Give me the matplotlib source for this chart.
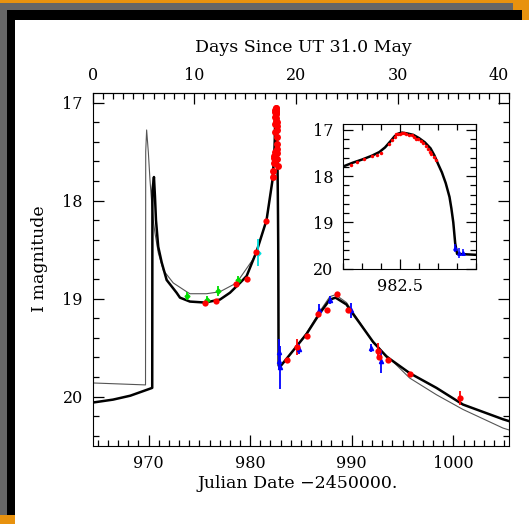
import numpy as np
import matplotlib.pyplot as plt
from matplotlib.patches import Rectangle
from matplotlib.ticker import MultipleLocator, FixedLocator

plt.rcParams['font.family'] = 'DejaVu Serif'
plt.rcParams['font.size'] = 11.5

# ---- model light curves (JD - 2450000, I mag) ----
# caustic exit, shared by both models (also drawn in the inset)
exit_t = [982.2, 982.25, 982.3, 982.35, 982.39, 982.42, 982.45, 982.47, 982.49,
          982.51, 982.54, 982.57, 982.6, 982.63, 982.66, 982.68, 982.7, 982.72,
          982.74, 982.76, 982.77, 982.78, 982.79, 982.8, 982.9]
exit_m = [17.79, 17.71, 17.64, 17.56, 17.48, 17.38, 17.24, 17.14, 17.08,
          17.06, 17.08, 17.11, 17.18, 17.27, 17.40, 17.55, 17.74, 17.92,
          18.15, 18.45, 18.70, 19.00, 19.45, 19.68, 19.70]

# thick model: before the exit / after it
thickA_t = [964.5, 966.5, 968.2, 970.1, 970.36, 970.38, 970.53, 970.63, 970.73,
            970.95, 971.29, 971.78, 972.76, 973.09, 974.07, 975.55, 977.02,
            978.01, 979.0, 979.65, 980.63, 981.61]
thickA_m = [20.06, 20.03, 19.99, 19.92, 19.91, 17.9, 17.76, 17.96, 18.20,
            18.47, 18.63, 18.81, 18.94, 18.99, 19.03, 19.04, 19.01,
            18.94, 18.84, 18.77, 18.52, 18.20]
thickB_t = [984.23, 985.55, 986.85, 987.84, 988.4, 989.48, 989.8, 990.78,
            992.09, 993.41, 995.7, 998.33, 1000.94, 1004.88, 1005.5]
thickB_m = [19.53, 19.36, 19.15, 19.01, 18.99, 19.06, 19.11, 19.25,
            19.44, 19.59, 19.76, 19.91, 20.08, 20.23, 20.25]

# thin model
thinA_t = [964.5, 969.7, 969.72, 969.81, 969.98, 970.14, 970.31, 970.46, 970.63,
           970.95, 971.45, 972.43, 973.75, 974.07, 975.71, 977.02, 978.66,
           980.27, 980.63, 981.61]
thinA_m = [19.86, 19.88, 17.5, 17.28, 17.51, 17.79, 18.02, 18.20, 18.33,
           18.53, 18.71, 18.84, 18.93, 18.95, 18.95, 18.93, 18.84,
           18.60, 18.52, 18.20]
thinB_t = [984.23, 985.55, 986.85, 987.84, 988.4, 989.48, 990.78, 992.09,
           993.73, 995.7, 998.33, 1000.94, 1004.88, 1005.5]
thinB_m = [19.53, 19.35, 19.13, 18.98, 18.96, 19.04, 19.24, 19.45,
           19.61, 19.81, 19.98, 20.13, 20.32, 20.34]

# ---- photometry ----
red_t = [975.55, 976.63, 978.59, 979.65, 980.56, 981.58, 983.64, 984.56,
         985.64, 986.69, 987.61, 988.55, 989.64, 992.62, 992.7, 993.6,
         995.7, 1000.65]
red_m = [19.04, 19.02, 18.85, 18.80, 18.52, 18.21, 19.63, 19.49,
         19.38, 19.16, 19.12, 18.95, 19.12, 19.53, 19.60, 19.63,
         19.77, 20.01]
red_e = [0.02, 0.02, 0.02, 0.02, 0.02, 0.02, 0.02, 0.08,
         0.02, 0.02, 0.02, 0.02, 0.02, 0.08, 0.03, 0.02,
         0.02, 0.07]

# red points over the caustic exit
redc_t = [982.24, 982.27, 982.31, 982.35, 982.38, 982.40, 982.44, 982.455,
          982.47, 982.48, 982.49, 982.50, 982.51, 982.52, 982.53, 982.545,
          982.56, 982.575, 982.585, 982.595, 982.61, 982.62, 982.635,
          982.645, 982.655, 982.665, 982.68, 982.69]
redc_m = [17.76, 17.70, 17.62, 17.57, 17.55, 17.50, 17.30, 17.22,
          17.15, 17.10, 17.08, 17.09, 17.06, 17.06, 17.09, 17.11,
          17.12, 17.16, 17.19, 17.20, 17.24, 17.28, 17.35,
          17.42, 17.47, 17.52, 17.58, 17.65]

blue_t = [982.82, 982.87, 982.92, 984.77, 986.81, 987.89, 989.9, 991.87, 992.92]
blue_m = [19.54, 19.64, 19.70, 19.51, 19.12, 19.01, 19.12, 19.50, 19.64]
blue_e = [0.13, 0.08, 0.22, 0.05, 0.07, 0.04, 0.08, 0.04, 0.12]

bluei_t = [982.79, 982.81, 982.83]
bluei_m = [19.55, 19.66, 19.65]
bluei_e = [0.08, 0.10, 0.08]

green_t = [973.8, 975.77, 976.85, 978.82]
green_m = [18.97, 19.01, 18.92, 18.81]
green_e = [0.04, 0.04, 0.05, 0.04]

cyan_t = [980.8]
cyan_m = [18.53]
cyan_e = [0.14]

day_ticks = [0, 10, 20, 30, 40]

fig = plt.figure(figsize=(5.29, 5.24), dpi=100, facecolor='#e8920e')

# the frame round the picture
fig.patches.append(Rectangle((0, 0.0172), 0.970, 0.977, transform=fig.transFigure,
                             facecolor='#666666', edgecolor='none', zorder=-3))
fig.patches.append(Rectangle((0.0132, 0.0172), 0.9736, 0.9637, transform=fig.transFigure,
                             facecolor='black', edgecolor='none', zorder=-2))
fig.patches.append(Rectangle((0.0284, 0.0), 0.9716, 0.9618, transform=fig.transFigure,
                             facecolor='white', edgecolor='none', zorder=-1))

ax = fig.add_axes([0.1752, 0.1494, 0.7875, 0.6737])
ax.set_facecolor('white')

main_thick_t = thickA_t + exit_t + thickB_t
main_thick_m = thickA_m + exit_m + thickB_m
main_thin_t = thinA_t + exit_t + thinB_t
main_thin_m = thinA_m + exit_m + thinB_m

ax.plot(main_thin_t, main_thin_m, color='#555555', lw=0.8, zorder=2)
ax.plot(main_thick_t, main_thick_m, color='black', lw=1.8, zorder=3)

ekw = dict(fmt='none', capsize=0, elinewidth=1.3, zorder=4)
ax.errorbar(green_t, green_m, yerr=green_e, ecolor='#00dd00', **ekw)
ax.plot(green_t, green_m, 'D', color='#00dd00', ms=2.5, zorder=5)
ax.errorbar(cyan_t, cyan_m, yerr=cyan_e, ecolor='#00e0e0', **ekw)
ax.plot(cyan_t, cyan_m, 'D', color='#00e0e0', ms=2.5, zorder=5)
ax.errorbar(blue_t, blue_m, yerr=blue_e, ecolor='blue', **ekw)
ax.plot(blue_t, blue_m, '^', color='blue', ms=3, zorder=5)
ax.errorbar(red_t, red_m, yerr=red_e, ecolor='red', **ekw)
ax.plot(red_t, red_m, 'o', color='red', ms=4.5, mec='none', zorder=6)
ax.plot(redc_t, redc_m, 'o', color='red', ms=5, mec='none', zorder=6)

ax.set_xlim(964.5, 1005.5)
ax.set_ylim(20.5, 16.9)
ax.xaxis.set_major_locator(MultipleLocator(10))
ax.xaxis.set_minor_locator(MultipleLocator(1))
ax.yaxis.set_major_locator(MultipleLocator(1))
ax.yaxis.set_minor_locator(MultipleLocator(0.2))
ax.tick_params(which='both', direction='in', top=False, right=True, width=0.9)
ax.tick_params(which='major', length=8, pad=7)
ax.tick_params(which='minor', length=4)

sec = ax.secondary_xaxis('top', functions=(lambda x: x - 964.5, lambda d: d + 964.5))
sec.set_xticks(day_ticks)
sec.xaxis.set_minor_locator(MultipleLocator(1))
sec.tick_params(which='both', direction='in', width=0.9)
sec.tick_params(which='major', length=8, pad=6)
sec.tick_params(which='minor', length=4)

fig.text(303 / 529, 1 - 48 / 524, 'Days Since UT 31.0 May', ha='center', va='center',
         fontsize=12.5)
fig.text(298 / 529, 1 - 483 / 524, 'Julian Date \u22122450000.', ha='center', va='center',
         fontsize=12.5)
fig.text(40 / 529, 1 - 259 / 524, 'I magnitude', ha='center', va='center', rotation=90,
         fontsize=12.5)

# inset: the caustic exit
ins = fig.add_axes([0.649, 0.4872, 0.2509, 0.2756])
ins.plot(exit_t, exit_m, color='black', lw=1.8, zorder=3)
ins.plot(redc_t, redc_m, 'o', color='red', ms=2.5, mec='none', zorder=5)
ins.errorbar(bluei_t, bluei_m, yerr=bluei_e, ecolor='blue', fmt='none',
             capsize=0, elinewidth=1.1, zorder=4)
ins.plot(bluei_t, bluei_m, '^', color='blue', ms=2.5, zorder=5)
ins.set_xlim(982.2, 982.9)
ins.set_ylim(20, 16.88)
ins.xaxis.set_major_locator(FixedLocator([982.5]))
ins.xaxis.set_minor_locator(MultipleLocator(0.1))
ins.xaxis.set_major_formatter(lambda v, p: '%.1f' % v)
ins.yaxis.set_major_locator(MultipleLocator(1))
ins.yaxis.set_minor_locator(MultipleLocator(0.2))
ins.tick_params(which='both', direction='in', top=True, right=True, width=0.9)
ins.tick_params(which='major', length=7, pad=7)
ins.tick_params(which='minor', length=4)

fig.savefig('out.png', dpi=100, facecolor=fig.get_facecolor())
